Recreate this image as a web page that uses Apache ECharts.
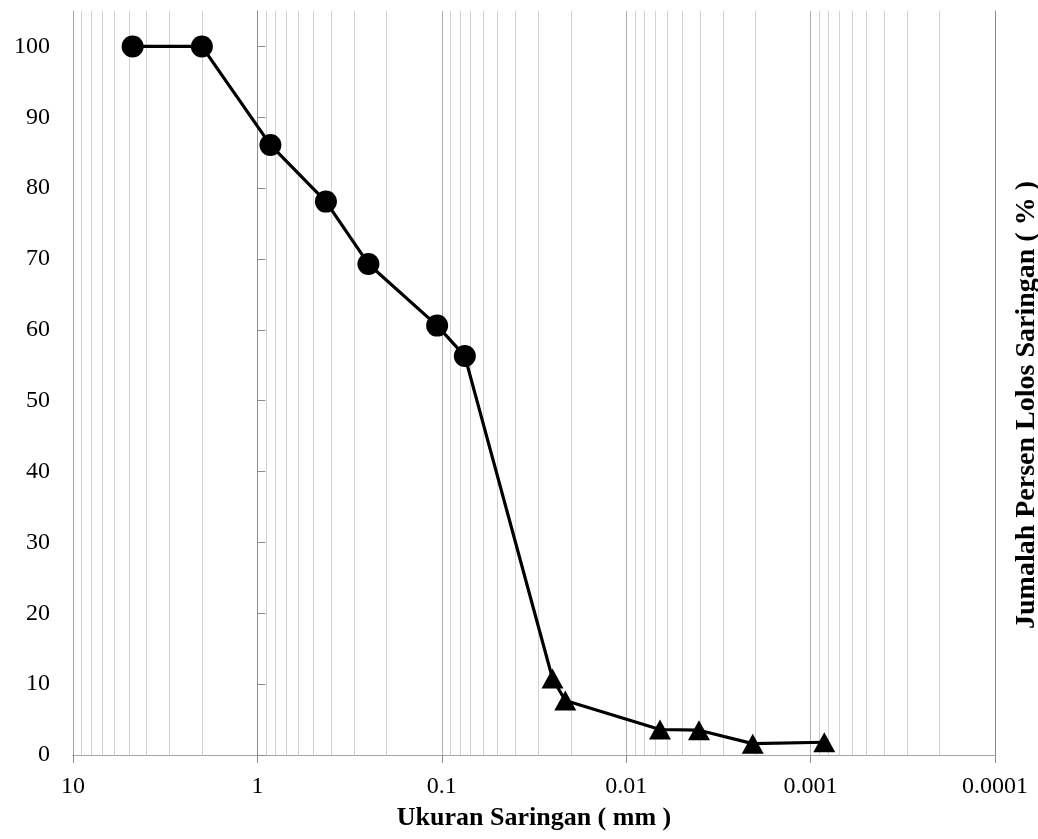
<!DOCTYPE html>
<html>
<head>
<meta charset="utf-8">
<script src="https://cdn.jsdelivr.net/npm/echarts@6/dist/echarts.min.js"></script>
<style>
  html, body { margin: 0; padding: 0; background: #fff; }
  #chart { width: 1038px; height: 839px; }
</style>
</head>
<body>
<div id="chart"></div>
<script>
// analisa saringan (lingkaran) dan hidrometer (segitiga)
var sieveSize = [4.75, 2.0, 0.85, 0.425, 0.25, 0.106, 0.075];
var sievePass = [100, 100, 86.1, 78.1, 69.3, 60.6, 56.3];
var hydroSize = [0.0251, 0.0214, 0.00656, 0.00403, 0.00206, 0.000843];
var hydroPass = [10.8, 7.7, 3.6, 3.5, 1.6, 1.8];

var xTickLabels = ['10', '1', '0.1', '0.01', '0.001', '0.0001'];
var yTicks = [0, 10, 20, 30, 40, 50, 60, 70, 80, 90, 100];
var decadeStarts = [1, 0.1, 0.01, 0.001, 0.0001];
var minorSteps = [2, 3, 4, 5, 6, 7, 8, 9];

var font = '"Liberation Serif", "Times New Roman", serif';

var points = [];
sieveSize.forEach(function (s, i) {
  points.push({ value: [s, sievePass[i]], symbol: 'circle', symbolSize: 22 });
});
hydroSize.forEach(function (s, i) {
  points.push({ value: [s, hydroPass[i]], symbol: 'triangle', symbolSize: [22, 20] });
});

// garis grid minor (2..9 tiap dekade)
var minorLines = [];
decadeStarts.forEach(function (d) {
  minorSteps.forEach(function (m) {
    minorLines.push([+(d * m).toPrecision(3)]);
  });
});

var myChart = echarts.init(document.getElementById('chart'), null, { renderer: 'canvas' });

myChart.setOption({
  animation: false,
  grid: { left: 73, right: 43, top: 11, bottom: 84 },
  xAxis: {
    type: 'log',
    logBase: 10,
    min: 0.0001,
    max: 10,
    inverse: true,
    name: 'Ukuran Saringan ( mm )',
    nameLocation: 'middle',
    nameGap: 50,
    nameTextStyle: { fontFamily: font, fontWeight: 'bold', fontSize: 26, color: '#000' },
    axisLine: { show: true, onZero: false, lineStyle: { color: '#a6a6a6', width: 1 } },
    axisTick: { show: true, length: 8, lineStyle: { color: '#8c8c8c' } },
    axisLabel: {
      fontFamily: font, fontSize: 24, color: '#000', margin: 20,
      formatter: function (v) {
        return xTickLabels[Math.round(1 - Math.log10(v))];
      }
    },
    splitLine: { show: true, lineStyle: { color: '#b0b0b0', width: 1 } }
  },
  yAxis: [
    {
      type: 'value', min: 0, max: 105, position: 'left',
      axisLine: { show: true, lineStyle: { color: '#a6a6a6' } },
      axisTick: { show: false },
      axisLabel: { fontFamily: font, fontSize: 24, color: '#000', margin: 23, customValues: yTicks },
      splitLine: { show: false }
    },
    {
      // sumbu y memotong pada x = 1
      type: 'value', min: 0, max: 105, position: 'left', offset: -184.4,
      axisLine: { show: true, lineStyle: { color: '#8c8c8c' } },
      axisTick: { show: true, inside: true, length: 8, customValues: yTicks, lineStyle: { color: '#8c8c8c' } },
      axisLabel: { show: false },
      splitLine: { show: false }
    },
    {
      type: 'value', min: 0, max: 105, position: 'right',
      axisLine: { show: true, lineStyle: { color: '#8c8c8c' } },
      axisTick: { show: false },
      axisLabel: { show: false },
      splitLine: { show: false }
    }
  ],
  graphic: [{
    type: 'text',
    x: 1027,
    y: 405,
    rotation: Math.PI / 2,
    style: {
      text: 'Jumalah Persen Lolos Saringan ( % )',
      font: 'bold 28px ' + font,
      fill: '#000',
      align: 'center',
      verticalAlign: 'middle'
    }
  }],
  series: [
    {
      name: 'grid',
      type: 'custom',
      z: 1,
      silent: true,
      data: minorLines,
      encode: { x: 0 },
      renderItem: function (params, api) {
        var top = api.coord([api.value(0), 105]);
        var bottom = api.coord([api.value(0), 0]);
        return {
          type: 'line',
          shape: { x1: Math.round(top[0]) + 0.5, y1: top[1], x2: Math.round(top[0]) + 0.5, y2: bottom[1] },
          style: { stroke: '#d2d2d2', lineWidth: 1 }
        };
      }
    },
    {
      name: 'Lolos',
      type: 'line',
      z: 5,
      data: points,
      itemStyle: { color: '#000' },
      lineStyle: { color: '#000', width: 3.2 }
    }
  ]
});
</script>
</body>
</html>
